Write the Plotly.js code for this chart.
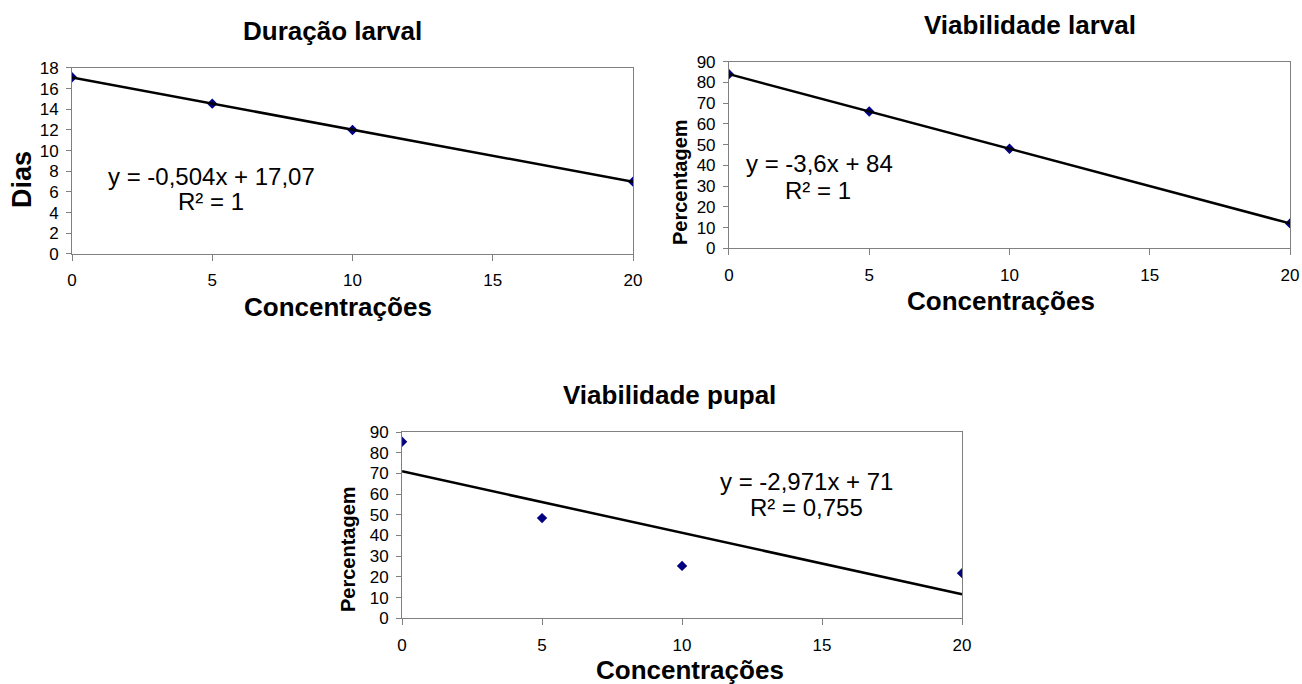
<!DOCTYPE html>
<html><head><meta charset="utf-8">
<script src="https://cdn.plot.ly/plotly-3.0.1.min.js"></script>
<style>html,body{margin:0;padding:0;background:#fff}#chart{width:1302px;height:684px}</style>
</head><body><div id="chart"></div>
<script>
const concentracoes = [0, 5, 10, 20];
const duracaoLarval = [17.1, 14.55, 12.0, 7.0];
const viabilidadeLarval = [84, 66, 48, 12];
const viabilidadePupal = [85.3, 48.4, 25.3, 21.8];
const trendX = [0, 20];
const trendDuracao = [17.07, 6.99];
const trendViabLarval = [84, 12];
const trendViabPupal = [71, 11.58];
const xTicks = [0, 5, 10, 15, 20];
const titles = ["Duração larval", "Viabilidade larval", "Viabilidade pupal"];
const xTitle = "Concentrações";
const yTitles = ["Dias", "Percentagem", "Percentagem"];
const eqLines = ["y = -0,504x + 17,07", "y = -3,6x + 84", "y = -2,971x + 71"];
const r2Lines = ["R² = 1", "R² = 1", "R² = 0,755"];

const FONT = "Liberation Sans, Arial, sans-serif";
const marker = {symbol: "diamond", size: 8, color: "#000080"};
const line = {color: "#000000", width: 2.5};

const traces = [
  {x: concentracoes, y: duracaoLarval, mode: "markers", marker, xaxis: "x", yaxis: "y"},
  {x: trendX, y: trendDuracao, mode: "lines", line, xaxis: "x", yaxis: "y"},
  {x: concentracoes, y: viabilidadeLarval, mode: "markers", marker, xaxis: "x2", yaxis: "y2"},
  {x: trendX, y: trendViabLarval, mode: "lines", line, xaxis: "x2", yaxis: "y2"},
  {x: concentracoes, y: viabilidadePupal, mode: "markers", marker, xaxis: "x3", yaxis: "y3"},
  {x: trendX, y: trendViabPupal, mode: "lines", line, xaxis: "x3", yaxis: "y3"}
];

function xax(domain, anchor) {
  return {domain, anchor, range: [0, 20], tickvals: xTicks, showgrid: false, zeroline: false,
    showline: true, mirror: true, linecolor: "#808080", linewidth: 1, ticks: "outside", ticklen: 6,
    tickcolor: "#808080", ticklabelstandoff: 5, tickfont: {family: FONT, size: 17, color: "#000"}};
}
function yax(domain, anchor, max, dt) {
  return {domain, anchor, range: [0, max], dtick: dt, showgrid: false, zeroline: false,
    showline: true, mirror: true, linecolor: "#808080", linewidth: 1, ticks: "outside", ticklen: 5,
    tickcolor: "#808080", ticklabelstandoff: 4, tickfont: {family: FONT, size: 17, color: "#000"}};
}

function ann(text, px, py, size, bold, angle) {
  return {text, xref: "paper", yref: "paper", x: px / 1302, y: 1 - py / 684, xanchor: "center", yanchor: "middle",
    textangle: angle || 0, showarrow: false,
    font: {family: FONT, size, color: "#000", weight: bold ? "bold" : "normal"}};
}

const layout = {
  width: 1302, height: 684, margin: {l: 0, r: 0, t: 0, b: 0},
  paper_bgcolor: "#fff", plot_bgcolor: "#fff", showlegend: false,
  font: {family: FONT, color: "#000"},
  xaxis: xax([0.0553, 0.4862], "y"),
  yaxis: yax([0.6287, 0.9006], "x", 18, 2),
  xaxis2: xax([0.5599, 0.9908], "y2"),
  yaxis2: yax([0.6370, 0.9098], "x2", 90, 10),
  xaxis3: xax([0.3088, 0.7389], "y3"),
  yaxis3: yax([0.0961, 0.3684], "x3", 90, 10),
  annotations: [
    ann(titles[0], 332, 31, 26, true),
    ann(titles[1], 1030, 25, 26, true),
    ann(titles[2], 670, 395, 26, true),
    ann(xTitle, 338, 307, 26, true),
    ann(xTitle, 1001, 301, 26, true),
    ann(xTitle, 690, 670, 26, true),
    ann(yTitles[0], 22, 180, 27, true, -90),
    ann(yTitles[1], 680, 182, 20, true, -90),
    ann(yTitles[2], 348, 549, 20, true, -90),
    ann(eqLines[0], 211, 176, 24, false),
    ann(r2Lines[0], 211, 202, 24, false),
    ann(eqLines[1], 819, 164, 24, false),
    ann(r2Lines[1], 818, 191, 24, false),
    ann(eqLines[2], 806, 481, 24, false),
    ann(r2Lines[2], 806, 507, 24, false)
  ]
};
Plotly.newPlot("chart", traces, layout, {displayModeBar: false, staticPlot: true});
</script></body></html>
